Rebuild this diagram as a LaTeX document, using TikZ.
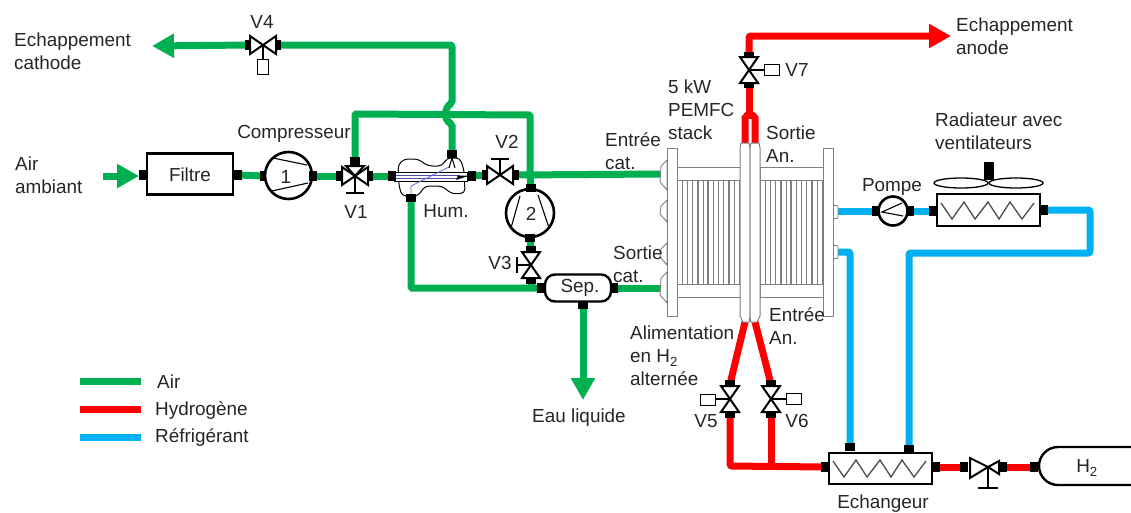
\documentclass[tikz,border=0pt]{standalone}
\usepackage{fontspec}
\setmainfont{Liberation Sans}
\usetikzlibrary{arrows.meta,backgrounds}
\definecolor{airg}{HTML}{00B050}
\definecolor{hyd}{HTML}{FF0000}
\definecolor{ref}{HTML}{00B0F0}
\definecolor{txt}{HTML}{262626}
\definecolor{fin}{HTML}{7F7F7F}
\tikzset{
 x=1pt,y=-1pt,
 lbl/.style={font=\fontsize{18.9}{23}\selectfont,text=txt,align=left,inner sep=0pt},
 port/.style={rectangle,fill=black,inner sep=0pt,minimum width=8pt,minimum height=10pt},
 portv/.style={rectangle,fill=black,inner sep=0pt,minimum width=10pt,minimum height=8pt},
 pipe/.style={line width=7pt,rounded corners=2pt},
 airp/.style={pipe,draw=airg},
 hydp/.style={pipe,draw=hyd},
 refp/.style={pipe,draw=ref},
 bigarrow/.style={-{Triangle[width=23pt,length=22pt]}},
 mach/.style={circle,draw=black,line width=2.6pt,fill=white,inner sep=0pt},
 boxc/.style={rectangle,draw=black,line width=2pt,fill=white,inner sep=0pt},
 stackp/.style={draw=fin,line width=1pt,fill=white},
 valveh/.pic={
  \draw[black,line width=2pt,fill=white,line join=miter] (-13,-9) -- (-13,9) -- (0,0) -- cycle;
  \draw[black,line width=2pt,fill=white,line join=miter] (13,-9) -- (13,9) -- (0,0) -- cycle;
 },
 coil/.pic={
  \draw[fin!60!black,line width=1.3pt] (-47,-7) -- (-36,9) -- (-24,-8) -- (-13,9) -- (0,-8) -- (11,9) -- (22,-8) -- (34,9) -- (46,-7);
 },
}
\begin{document}
\begin{tikzpicture}
\useasboundingbox (0,0) rectangle (1131,512);
% ---- machines and ports
\coordinate (airin) at (103,176);
\node[port] (pf1) at (143,175) {};
\node[boxc,minimum width=86pt,minimum height=41pt,line width=2.6pt] (filtre) at (190,174) {};
\node[lbl] (tfiltre) at (190,175) {Filtre};
\node[port] (pf2) at (238,175) {};
\node[port] (pc1a) at (264,176) {};
\node[mach,minimum size=47pt] (comp1) at (288.5,175.5) {};
\draw[black,line width=1.1pt] (273,158) -- (307,165) (272,191) -- (308,183);
\node[lbl] (t1) at (286,177) {1};
\node[port] (pc1b) at (313,176) {};
% V1
\node[port] (pv1a) at (340,176) {};
\node[port] (pv1b) at (369,176) {};
\node[portv] (pv1t) at (355,161) {};
\coordinate (v1c) at (355,176);
\draw[black,line width=2pt] (v1c) -- (355,193) (346,193) -- (364,193);
\pic at (v1c) {valveh};
\draw[black,line width=2pt,fill=white] (346,166) -- (364,166) -- (v1c) -- cycle;
% Humidifier
\draw[black,line width=1pt,fill=white,rounded corners=4pt] (404,159) -- (418,159) -- (428,166) -- (442,166) -- (447,158) -- (460,158) -- (464,170) -- (465,193) -- (452,194) -- (442,186) -- (425,186) -- (418,196) -- (402,196) -- (399,186) -- (398,165) -- cycle;
\draw[black,line width=1pt,fill=white] (394,172) rectangle (467,181);
\draw[blue!60!black!70!white,line width=.8pt] (396,175) -- (460,175) (396,178) -- (460,178);
\draw[blue!70!black!60!white,line width=.8pt] (411,196) -- (411,186) -- (449,167);
\draw[black,line width=1pt,fill=black] (457,176) -- (467,176) -- (457,179) -- (459,176);
\draw[black,line width=1pt] (452,158) -- (449,168) (452,158) -- (455,168);
\node[port] (phl) at (392,176) {};
\node[port] (phr) at (472,176) {};
\node[portv] (pht) at (452,154) {};
\node[portv] (phb) at (411,198) {};
% V2
\node[port] (pv2a) at (486,175) {};
\node[port] (pv2b) at (515,175) {};
\coordinate (v2c) at (500,175);
\draw[black,line width=2pt] (v2c) -- (500,159) (491,159) -- (509,159);
\pic at (v2c) {valveh};
\coordinate (jtop) at (530,175);
% Pump 2
\node[mach,minimum size=48pt] (comp2) at (530,213) {};
\draw[black,line width=1.1pt] (520,196) -- (511,228) (538,195) -- (549,228);
\node[lbl] (t2) at (531,214) {2};
\node[portv] (pc2a) at (531,188) {};
\node[portv] (pc2b) at (530,238) {};
% V3
\node[portv] (pv3a) at (531,250) {};
\node[portv] (pv3b) at (531,280) {};
\coordinate (v3c) at (531,265);
\draw[black,line width=2pt] (v3c) -- (517,265) (517,257) -- (517,273);
\pic[rotate=90] at (v3c) {valveh};
% Separator
\node[rectangle,draw=black,line width=2.4pt,fill=white,rounded corners=10pt,minimum width=66pt,minimum height=27pt,inner sep=0pt] (sep) at (578,288) {};
\node[lbl] (tsep) at (580,288) {Sep.};
\node[port] (psa) at (541,288) {};
\node[port] (psb) at (614,288) {};
\node[portv] (psc) at (583,305) {};
\coordinate (eau) at (583,400);
% V4
\node[port] (pv4a) at (249,45) {};
\node[port] (pv4b) at (277,45) {};
\coordinate (v4c) at (263,45);
\draw[black,line width=2pt] (v4c) -- (263,60);
\pic at (v4c) {valveh};
\node[boxc,minimum width=11pt,minimum height=15pt,line width=1.8pt] (act4) at (263,67) {};
\coordinate (cathout) at (152,46);
% ---- Stack
\foreach \yy/\hh in {160/190,200/222,243/265,272/303}{
 \draw[fin,line width=.9pt,fill=white] (667,\yy) -- (661,\yy+6) -- (660,\hh-8) -- (667,\hh) -- cycle;
}
\foreach \yy in {205,245}{
 \draw[fin,line width=.9pt,fill=white] (833,\yy) -- (838,\yy+1) -- (838,\yy+13) -- (833,\yy+14) -- cycle;
}
\foreach \xa/\xb in {677/740,760/823}{
 \draw[stackp] (\xa,167) rectangle (\xb,180);
 \draw[stackp] (\xa,284) rectangle (\xb,297);
 \foreach \k in {0,...,12}{
  \draw[fin,line width={mod(\k,2)==0 ? 1.5pt : 0.9pt}] (\xa+\k*5.2,180) -- (\xa+\k*5.2,284);
 }
 \draw[fin,line width=1.5pt] (\xb,180) -- (\xb,284);
}
\draw[stackp] (667,148) rectangle (677,316);
\draw[stackp] (823,148) rectangle (833,316);
\draw[stackp] (741,143) -- (749,143) -- (750,148) -- (750,317) -- (749,322) -- (743,322) -- (740,316) -- (740,148) -- cycle;
\draw[stackp] (751,143) -- (759,143) -- (760,148) -- (760,316) -- (757,322) -- (751,322) -- (750,317) -- (750,148) -- cycle;
\coordinate (anl) at (745,143);
\coordinate (anr) at (755,143);
\coordinate (anm) at (749,115);
\coordinate (inl) at (745,322);
\coordinate (inr) at (755,322);
\coordinate (ce) at (660,174);
\coordinate (cs) at (660,288);
\coordinate (rout) at (838,211);
\coordinate (rin) at (838,252);
% V7
\node[portv] (pv7t) at (749,56) {};
\node[portv] (pv7b) at (749,84) {};
\coordinate (v7c) at (749,70);
\draw[black,line width=2pt] (v7c) -- (765,70);
\pic[rotate=90] at (v7c) {valveh};
\node[boxc,minimum width=15pt,minimum height=11pt,line width=1.8pt] (act7) at (772,70) {};
\coordinate (anout) at (951,36);
% V5, V6
\node[portv] (pv5t) at (730,384) {};
\node[portv] (pv5b) at (730,414) {};
\coordinate (v5c) at (730,399);
\draw[black,line width=2pt] (v5c) -- (715,399);
\pic[rotate=90] at (v5c) {valveh};
\node[boxc,minimum width=15pt,minimum height=11pt,line width=1.8pt] (act5) at (708,400) {};
\node[portv] (pv6t) at (771,384) {};
\node[portv] (pv6b) at (771,414) {};
\coordinate (v6c) at (771,399);
\draw[black,line width=2pt] (v6c) -- (787,399);
\pic[rotate=90] at (v6c) {valveh};
\node[boxc,minimum width=15pt,minimum height=11pt,line width=1.8pt] (act6) at (794,399) {};
% Exchanger
\node[boxc,minimum width=103pt,minimum height=31pt] (ech) at (880,468) {};
\pic at (ech.center) {coil};
\node[port] (pel) at (825,467) {};
\node[port] (per) at (936,467) {};
\node[portv] (pet1) at (850,447) {};
\node[portv] (pet2) at (909,449) {};
\coordinate (j56) at (771,466);
% Reducer valve
\node[port] (pv8a) at (964,467) {};
\node[port] (pv8b) at (1003,467) {};
\coordinate (v8c) at (988,467);
\draw[black,line width=2pt] (988,467) -- (988,488) (978,488) -- (998,488);
\draw[black,line width=2pt,fill=white] (970,458) -- (970,478) -- (988,467) -- cycle;
\draw[black,line width=2pt,fill=white] (999,461) -- (999,474) -- (988,467) -- cycle;
% Tank
\draw[black,line width=2.4pt,fill=white] (1131,447) -- (1058,447) arc[start angle=270,end angle=90,radius=19] -- (1131,485);
\node[lbl] (th2) at (1087,468) {H\textsubscript{2}};
\node[port] (ptk) at (1034,467) {};
% Radiator
\node[boxc,minimum width=103pt,minimum height=32pt] (rad) at (988,210) {};
\pic at (rad.center) {coil};
\node[port] (prl) at (933,211) {};
\node[port] (prr) at (1044,210) {};
\draw[black,line width=1.3pt] (961,183) ellipse[x radius=27,y radius=5];
\draw[black,line width=1.3pt] (1016,183) ellipse[x radius=27,y radius=5];
\node[rectangle,fill=black,minimum width=10pt,minimum height=18pt,inner sep=0pt] (hub) at (989,171) {};
% Pump
\node[mach,minimum size=29pt] (pompe) at (893,211) {};
\draw[black,line width=1.1pt] (902,203) -- (882,212) -- (903,216);
\node[port] (ppa) at (876,211) {};
\node[port] (ppb) at (910,211) {};
% Legend
\coordinate (la1) at (80,381); \coordinate (la2) at (141,381);
\coordinate (lb1) at (80,409); \coordinate (lb2) at (141,409);
\coordinate (lc1) at (80,437); \coordinate (lc2) at (141,437);
% ---- pipes
\begin{scope}[on background layer]
\draw[airp,bigarrow] (airin) -- ++(36,0);
\draw[airp] (pf2.center) -- (pc1a.center);
\draw[airp] (pc1b.center) -- (pv1a.center);
\draw[airp] (pv1b.center) -- (phl.center);
\draw[airp] (phr.center) -- (pv2a.center);
\draw[airp] (pv2b.center) -- (ce);
\draw[airp,rounded corners=1pt] (pv1t.center) -- (355,114) -- (530,115) -- (jtop) -- (pc2a.center);
\draw[airp] (pc2b.center) -- (pv3a.center);
\draw[airp] (pv3b.center) -- (531,288);
\draw[airp,rounded corners=1pt] (phb.center) -- (411,288) -- (psa.center);
\draw[airp] (psb.center) -- (cs);
\draw[airp,bigarrow] (psc.center) -- (eau);
\draw[airp] (pht.center) -- (452,124) .. controls (444,120) and (444,108) .. (452,103) -- (452,45) -- (pv4b.center);
\draw[airp,bigarrow] (pv4a.center) -- (cathout);
\draw[hydp] (anl) -- (745,116) -- (anm) -- (755,116) -- (anr);
\draw[hydp] (anm) -- (pv7b.center);
\draw[hydp,bigarrow] (pv7t.center) -- (749,36) -- (anout);
\draw[hydp] (inl) -- (pv5t.center);
\draw[hydp] (inr) -- (pv6t.center);
\draw[hydp] (pv5b.center) -- (730,466) -- (pel.center);
\draw[hydp] (pv6b.center) -- (j56);
\draw[hydp] (per.center) -- (pv8a.center);
\draw[hydp] (pv8b.center) -- (ptk.center);
\draw[refp] (rout) -- (ppa.center);
\draw[refp] (ppb.center) -- (prl.center);
\draw[refp] (prr.center) -- (1090,210) -- (1090,253) -- (909,253) -- (pet2.center);
\draw[refp] (rin) -- (850,252) -- (pet1.center);
\draw[airg,line width=7pt] (la1) -- (la2);
\draw[hyd,line width=7pt] (lb1) -- (lb2);
\draw[ref,line width=7pt] (lc1) -- (lc2);
\end{scope}
% ---- labels
\node[lbl,anchor=west] (n1) at (14,51) {Echappement\\cathode};
\node[lbl,anchor=west] (n2) at (15,175) {Air\\ambiant};
\node[lbl] (n3) at (294,134) {Compresseur};
\node[lbl] (n4) at (356,212) {V1};
\node[lbl] (n5) at (446,211) {Hum.};
\node[lbl] (n6) at (507,142) {V2};
\node[lbl] (n7) at (262,22) {V4};
\node[lbl] (n8) at (500,263) {V3};
\node[lbl,anchor=west] (n9) at (605,151) {Entrée\\cat.};
\node[lbl,anchor=west] (n10) at (613,264) {Sortie\\cat.};
\node[lbl,anchor=west] (n11) at (668,110) {5 kW\\PEMFC\\stack};
\node[lbl,anchor=west] (n12) at (766,144) {Sortie\\An.};
\node[lbl,anchor=west] (n13) at (769,326) {Entrée\\An.};
\node[lbl,anchor=west] (n14) at (630,356) {Alimentation\\en H\textsubscript{2}\\alternée};
\node[lbl] (n15) at (579,418) {Eau liquide};
\node[lbl] (n16) at (892,187) {Pompe};
\node[lbl,anchor=west] (n17) at (935,131) {Radiateur avec\\ventilateurs};
\node[lbl] (n18) at (883,504) {Echangeur};
\node[lbl,anchor=west] (n19) at (956,36) {Echappement\\anode};
\node[lbl] (n20) at (797,70) {V7};
\node[lbl] (n21) at (706,421) {V5};
\node[lbl] (n22) at (797,421) {V6};
\node[lbl,anchor=west] (n23) at (157,382) {Air};
\node[lbl,anchor=west] (n24) at (155,410) {Hydrogène};
\node[lbl,anchor=west] (n25) at (155,437) {Réfrigérant};
\end{tikzpicture}
\end{document}
